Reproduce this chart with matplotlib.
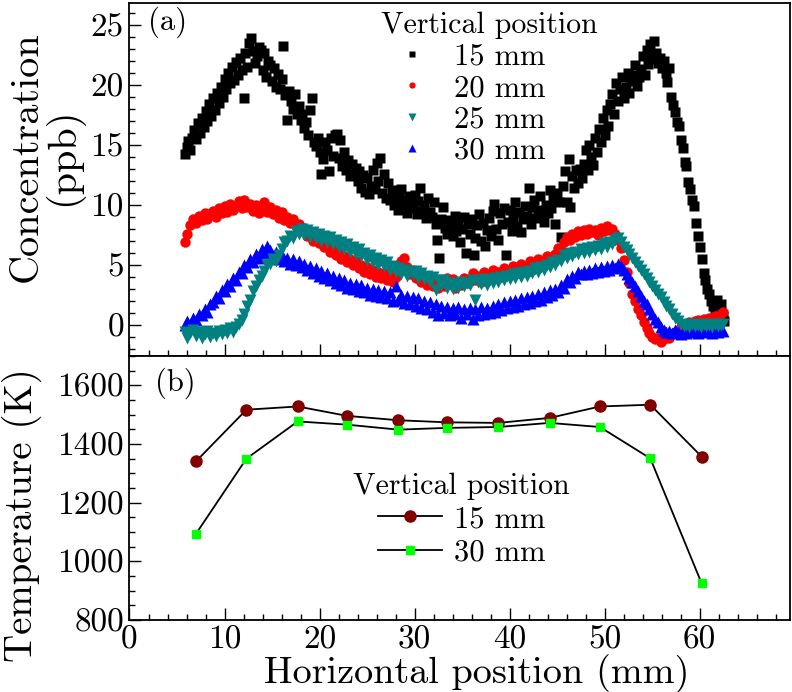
import numpy as np
import matplotlib.pyplot as plt
from matplotlib.ticker import MultipleLocator

plt.rcParams['font.family'] = 'cmr10'
plt.rcParams['axes.unicode_minus'] = False
plt.rcParams['mathtext.fontset'] = 'cm'

# (a) concentration vs horizontal position, four vertical positions
# scan positions (mm)
x_15 = np.linspace(5.8, 62.6, 285)
x_scan = np.linspace(5.8, 62.5, 190)

conc_15 = [
    14.2, 14.8, 15.3, 14.6, 15.6, 16.2, 15.5, 16.8, 16.0, 17.2,
    16.5, 17.8, 17.0, 18.4, 17.4, 18.9, 17.9, 19.3, 18.5, 19.8,
    19.0, 20.5, 19.6, 21.0, 20.1, 21.5, 20.4, 21.9, 20.8, 22.2,
    21.2, 18.9, 22.6, 21.5, 23.5, 23.9, 22.8, 21.8, 22.4, 23.1,
    22.9, 21.2, 22.6, 20.6, 22.0, 21.6, 20.3, 21.4, 19.8, 20.9,
    19.6, 20.5, 23.2, 19.1, 17.1, 19.5, 18.6, 18.0, 19.2, 17.6,
    18.2, 17.1, 17.6, 16.4, 16.9, 15.8, 17.9, 18.9, 15.2, 14.9,
    15.6, 14.4, 12.6, 13.8, 15.2, 14.6, 12.8, 15.6, 14.1, 15.8,
    15.9, 13.9, 15.4, 13.2, 14.4, 12.9, 13.7, 12.4, 13.4, 12.6,
    13.1, 12.0, 12.8, 11.4, 12.5, 11.1, 12.2, 10.9, 11.6, 12.9,
    11.3, 13.5, 12.0, 13.9, 11.0, 12.6, 10.6, 11.8, 10.4, 11.2,
    10.0, 10.9, 9.6, 10.6, 11.3, 9.8, 10.4, 9.3, 10.7, 10.1,
    9.7, 10.8, 9.2, 10.3, 11.4, 9.5, 10.0, 8.9, 10.6, 9.4,
    9.0, 10.2, 8.4, 7.1, 5.6, 8.8, 9.8, 8.1, 7.6, 8.7,
    8.2, 7.4, 9.1, 7.8, 8.6, 6.9, 8.0, 9.0, 6.0, 8.4,
    7.6, 8.8, 5.8, 7.2, 8.3, 9.2, 7.0, 8.5, 6.6, 7.9,
    8.9, 7.4, 9.5, 10.1, 8.0, 7.1, 9.3, 8.4, 9.7, 5.8,
    8.6, 9.6, 7.8, 9.0, 10.2, 8.2, 9.4, 7.7, 8.8, 9.9,
    9.1, 11.4, 8.4, 9.8, 10.4, 8.9, 9.6, 10.7, 9.2, 8.6,
    10.0, 9.3, 11.2, 9.7, 10.5, 8.4, 11.0, 10.2, 7.3, 11.6,
    12.8, 10.2, 13.8, 9.8, 12.4, 11.4, 12.9, 11.8, 13.0, 12.2,
    13.4, 14.6, 12.9, 15.0, 14.0, 13.3, 15.6, 14.4, 16.3, 15.2,
    17.2, 15.8, 17.9, 16.6, 18.4, 19.2, 17.6, 20.1, 18.6, 19.6,
    20.6, 18.9, 19.8, 21.0, 19.3, 20.3, 20.8, 21.6, 19.9, 20.6,
    21.3, 22.4, 20.8, 22.9, 21.7, 23.4, 22.1, 23.6, 22.6, 21.8,
    22.2, 21.4, 22.0, 21.0, 20.2, 21.4, 19.0, 18.3, 17.7, 16.9,
    16.6, 15.4, 14.7, 13.6, 13.2, 11.9, 11.3, 10.4, 9.9, 8.5,
    7.4, 6.5, 5.5, 4.3, 3.7, 3.0, 2.6, 2.0, 1.6, 1.2,
    2.1, 1.0, 1.7, 0.7, 0.3,
]

conc_20 = [
    6.9, 7.6, 8.3, 8.8, 8.5, 9.1, 8.7, 9.3, 8.8, 9.2,
    9.5, 9.0, 9.7, 9.3, 9.9, 9.4, 10.1, 9.6, 9.9, 10.3,
    9.7, 10.4, 9.8, 10.1, 9.5, 10.0, 9.3, 9.8, 10.2, 9.4,
    9.8, 9.2, 9.6, 8.9, 9.4, 8.7, 9.0, 8.5, 8.8, 8.2,
    8.4, 7.8, 8.1, 7.4, 7.7, 7.0, 7.3, 6.8, 7.1, 6.5,
    6.7, 6.1, 6.4, 5.8, 6.0, 5.5, 5.7, 5.2, 5.5, 5.0,
    5.3, 4.7, 5.0, 4.4, 4.8, 4.2, 4.6, 4.0, 4.4, 3.9,
    4.3, 3.7, 4.1, 3.6, 4.0, 4.6, 5.3, 5.6, 4.8, 4.2,
    4.5, 3.9, 4.2, 3.6, 3.9, 3.3, 3.7, 3.2, 3.5, 3.1,
    3.6, 3.2, 3.9, 3.4, 3.8, 3.1, 3.6, 3.3, 3.9, 3.5,
    3.8, 4.3, 3.7, 4.1, 3.6, 4.4, 3.9, 4.2, 4.6, 4.0,
    4.4, 4.0, 4.7, 4.2, 4.5, 4.9, 4.3, 4.7, 5.1, 4.5,
    4.8, 5.3, 4.6, 5.0, 5.5, 4.9, 5.2, 5.7, 5.3, 5.6,
    5.9, 6.4, 6.2, 6.9, 7.3, 7.1, 7.6, 7.3, 7.8, 7.5,
    7.9, 7.6, 8.0, 7.7, 7.9, 7.5, 8.1, 7.8, 8.2, 7.9,
    8.0, 7.6, 7.1, 6.4, 5.4, 4.4, 3.5, 2.6, 2.0, 1.3,
    0.8, 0.2, -0.3, -0.7, -1.0, -1.2, -1.1, -1.4, -1.2, -1.0,
    -1.1, -0.8, -0.6, -0.4, -0.2, 0.0, -0.1, 0.2, 0.1, 0.3,
    0.4, 0.2, 0.5, 0.3, 0.6, 0.4, 0.7, 0.5, 0.9, 1.1,
]

conc_25 = [
    -0.6, -1.1, -0.7, -0.4, -0.9, -0.6, -1.1, -0.8, -0.5, -1.0,
    -0.7, -0.9, -0.5, -0.8, -0.4, -0.7, -0.3, -0.6, -0.2, 0.1,
    0.4, 0.9, 1.6, 2.1, 2.8, 3.2, 3.7, 4.1, 4.5, 5.0,
    5.1, 5.5, 5.3, 5.8, 6.3, 6.9, 7.0, 7.4, 7.2, 7.8,
    7.6, 8.0, 7.5, 7.9, 7.3, 7.7, 7.2, 7.6, 7.0, 7.4,
    6.9, 7.3, 6.7, 7.1, 6.5, 6.9, 6.3, 6.7, 6.1, 6.5,
    5.9, 6.3, 5.7, 6.0, 5.4, 5.8, 5.2, 5.6, 5.0, 5.4,
    4.9, 5.2, 4.6, 4.9, 4.4, 4.7, 4.2, 4.6, 4.1, 4.5,
    4.2, 4.5, 3.9, 4.3, 3.8, 4.1, 3.6, 4.0, 2.9, 3.7,
    3.3, 3.7, 3.1, 3.5, 3.0, 3.4, 3.1, 3.6, 3.2, 3.5,
    3.3, 3.7, 2.1, 3.6, 3.4, 3.8, 3.3, 3.7, 3.5, 3.9,
    3.6, 4.0, 3.7, 4.1, 3.8, 4.2, 3.9, 4.3, 4.0, 4.4,
    4.1, 4.5, 4.3, 4.7, 4.4, 4.8, 4.6, 5.0, 4.8, 5.2,
    5.0, 5.4, 5.3, 5.8, 5.6, 6.0, 5.7, 6.1, 5.9, 6.3,
    6.0, 6.4, 6.1, 6.5, 6.2, 6.6, 6.3, 6.8, 6.5, 6.9,
    6.7, 7.1, 7.2, 6.9, 6.5, 6.2, 5.9, 5.6, 5.2, 4.9,
    4.6, 4.2, 3.9, 3.6, 3.2, 2.9, 2.6, 2.3, 1.9, 1.6,
    1.3, 0.9, 0.6, 0.3, 0.1, -0.1, 0.0, -0.2, 0.1, -0.1,
    0.0, -0.2, 0.1, -0.1, 0.0, -0.2, 0.1, -0.1, 0.0, 0.1,
]

conc_30 = [
    0.0, 0.3, 0.1, 0.6, 0.4, 0.9, 0.8, 1.3, 1.1, 1.7,
    1.9, 2.4, 2.2, 2.9, 2.8, 3.4, 3.2, 3.9, 3.7, 4.4,
    4.3, 5.0, 4.8, 5.5, 5.2, 5.9, 5.6, 6.3, 6.0, 6.6,
    6.2, 5.7, 6.1, 5.5, 5.8, 5.3, 5.6, 5.1, 5.5, 5.0,
    5.3, 4.8, 5.1, 4.6, 4.9, 4.3, 4.7, 4.1, 4.5, 3.9,
    4.3, 3.7, 4.1, 3.5, 3.9, 3.3, 3.7, 3.1, 3.5, 3.0,
    3.4, 2.8, 3.3, 2.7, 3.1, 2.5, 3.0, 2.4, 2.9, 2.3,
    2.8, 2.2, 2.7, 2.0, 3.2, 2.1, 2.5, 1.8, 2.4, 1.7,
    2.3, 1.6, 2.2, 1.4, 2.0, 1.3, 1.9, 1.1, 1.7, 0.8,
    1.6, 1.0, 1.5, 0.8, 1.4, 0.9, 1.5, 0.6, 1.3, 0.9,
    1.4, 0.5, 1.3, 0.8, 1.5, 0.9, 1.4, 1.0, 1.6, 1.1,
    1.7, 1.2, 1.9, 1.4, 2.0, 1.5, 2.1, 1.6, 2.2, 1.7,
    2.3, 1.8, 2.4, 2.0, 2.6, 2.1, 2.7, 2.3, 2.9, 2.5,
    3.0, 2.7, 3.3, 3.1, 3.8, 3.6, 4.1, 3.9, 4.4, 4.2,
    4.5, 4.2, 4.6, 4.3, 4.7, 4.4, 4.8, 4.5, 4.9, 4.6,
    5.0, 4.7, 5.1, 4.9, 4.6, 4.2, 3.9, 3.6, 3.2, 2.8,
    2.4, 2.0, 1.7, 1.3, 0.9, 0.5, 0.2, -0.2, -0.4, -0.6,
    -0.5, -0.7, -0.4, -0.6, -0.8, -0.5, -0.7, -0.4, -0.6, -0.5,
    -0.7, -0.4, -0.6, -0.3, -0.5, -0.7, -0.4, -0.6, -0.3, -0.5,
]

# (b) temperature vs horizontal position
x_temp = [7.0, 12.3, 17.7, 22.9, 28.3, 33.4, 38.8, 44.2, 49.5, 54.8, 60.2]
temp_15 = [1341, 1517, 1528, 1496, 1481, 1474, 1472, 1489, 1528, 1534, 1357]
temp_30 = [1094, 1350, 1477, 1466, 1449, 1455, 1458, 1472, 1458, 1351, 925]

fig = plt.figure(figsize=(7.92, 6.92), dpi=100)
ax1 = fig.add_axes([0.1635, 0.4855, 0.834, 0.5101])
ax2 = fig.add_axes([0.1635, 0.10405, 0.834, 0.38145], sharex=ax1)

h15, = ax1.plot(x_15, conc_15, 's', color='black', ms=6.5, mec='none', label='15 mm')
h20, = ax1.plot(x_scan, conc_20, 'o', color='#ff0000', ms=7.5, mec='none', label='20 mm')
h30, = ax1.plot(x_scan, conc_30, '^', color='#0000ff', ms=8.5, mec='none', label='30 mm')
h25, = ax1.plot(x_scan, conc_25, 'v', color='#008080', ms=8.5, mec='none', label='25 mm')

ax1.legend(handles=[h15, h20, h25, h30], title='Vertical position',
           loc='upper left', bbox_to_anchor=(0.381, 0.975), frameon=False,
           fontsize=22, title_fontsize=21.5, markerscale=0.6, handlelength=2.0,
           handletextpad=0.4, labelspacing=0.13, borderpad=0, borderaxespad=0,
           alignment='left')

ax2.plot(x_temp, temp_15, '-o', color='black', lw=1.3, ms=8, mfc='#800000', mec='#800000',
         label='15 mm')
ax2.plot(x_temp, temp_30, '-s', color='black', lw=1.3, ms=6, mfc='#00ff00', mec='#00ff00',
         label='30 mm')
ax2.legend(title='Vertical position', loc='upper center', bbox_to_anchor=(0.503, 0.56),
           frameon=False, fontsize=22, title_fontsize=21.5, handlelength=2.1,
           handletextpad=0.4, labelspacing=0.2, borderpad=0, borderaxespad=0)

ax1.set_xlim(0, 69.5)
ax1.set_ylim(-2.6, 26.8)
ax2.set_ylim(800, 1700)

ax1.xaxis.set_major_locator(MultipleLocator(10))
ax1.xaxis.set_minor_locator(MultipleLocator(2))
ax1.yaxis.set_major_locator(MultipleLocator(5))
ax1.yaxis.set_minor_locator(MultipleLocator(1))
ax2.yaxis.set_major_locator(MultipleLocator(200))
ax2.yaxis.set_minor_locator(MultipleLocator(50))

for ax in (ax1, ax2):
    ax.tick_params(which='both', direction='in', top=False, right=False, labelsize=24)
    ax.tick_params(which='major', length=8.5, width=1.0, pad=4)
    ax.tick_params(which='minor', length=4.3, width=1.0)
    for s in ax.spines.values():
        s.set_linewidth(1.3)
ax1.tick_params(labelbottom=False)

ax1.text(0.028, 0.946, '(a)', transform=ax1.transAxes, fontsize=22, va='center')
ax2.text(0.039, 0.898, '(b)', transform=ax2.transAxes, fontsize=22, va='center')

ax1.set_ylabel('Concentration\n(ppb)', fontsize=29, linespacing=0.95)
ax1.yaxis.set_label_coords(-0.07, 0.564)
ax2.set_ylabel('Temperature (K)', fontsize=28)
ax2.yaxis.set_label_coords(-0.133, 0.398)
ax2.set_xlabel('Horizontal position (mm)', fontsize=27.5)
ax2.xaxis.set_label_coords(0.525, -0.13)

fig.savefig('out.png', dpi=100)
